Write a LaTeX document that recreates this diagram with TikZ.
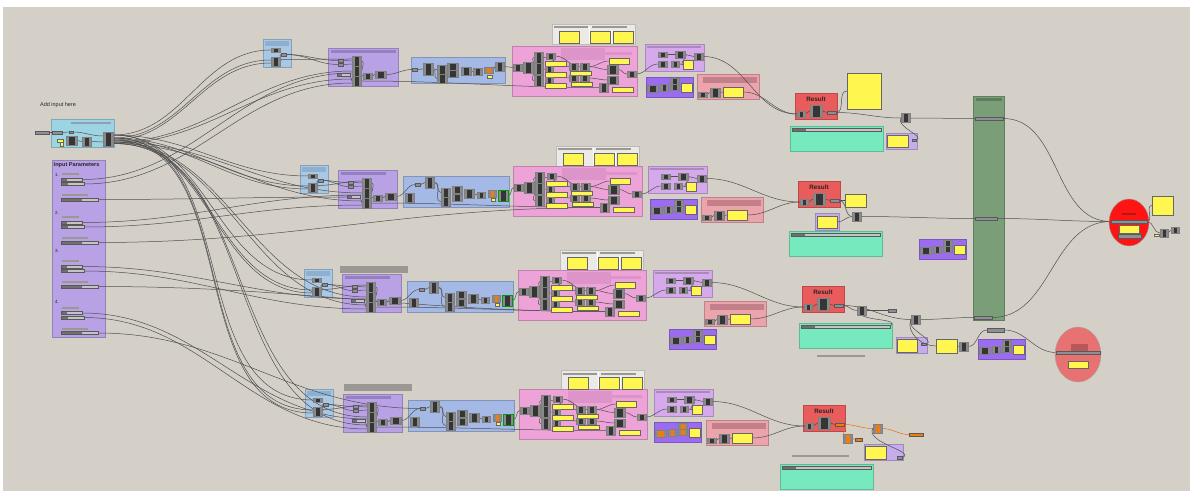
\documentclass[tikz,border=0pt]{standalone}
\usepackage{fontspec}
\setsansfont{Liberation Sans}
\usepackage{tikz}
\usetikzlibrary{positioning,calc,shapes.geometric}
\pgfdeclarelayer{grp}
\pgfdeclarelayer{wires}
\pgfsetlayers{grp,wires,main}

\definecolor{canvasGray}{HTML}{D4D0C8}
\definecolor{inBlue}{HTML}{A8C8E6}
\definecolor{inBlueHead}{HTML}{8FAFCF}
\definecolor{cyanGrp}{HTML}{9DD4E4}
\definecolor{cyanHead}{HTML}{8AA2B2}
\definecolor{purpleGrp}{HTML}{B9A1E5}
\definecolor{purpleHead}{HTML}{957FC0}
\definecolor{blueGrp}{HTML}{A5B9E6}
\definecolor{pinkGrp}{HTML}{EDA3D8}
\definecolor{pinkHead}{HTML}{DD94C8}
\definecolor{whiteGrp}{HTML}{ECEAE6}
\definecolor{lilacGrp}{HTML}{D6A9EC}
\definecolor{lilacHead}{HTML}{A98BB9}
\definecolor{smallGrp}{HTML}{C4ADEA}
\definecolor{violetGrp}{HTML}{9B6CF0}
\definecolor{salmonGrp}{HTML}{EBA3AC}
\definecolor{salmonHead}{HTML}{C4808A}
\definecolor{resultRed}{HTML}{EA5B5B}
\definecolor{tealGrp}{HTML}{77E9BE}
\definecolor{greenGrp}{HTML}{7A9E78}
\definecolor{greenHead}{HTML}{5E7D5C}
\definecolor{redEll}{HTML}{FF1414}
\definecolor{darkRed}{HTML}{B01818}
\definecolor{salmonEll}{HTML}{E87272}
\definecolor{salmonDark}{HTML}{B85858}
\definecolor{panelYellow}{HTML}{FFF650}
\definecolor{compDark}{HTML}{353535}
\definecolor{compSide}{HTML}{8A8A8A}
\definecolor{ghOrange}{HTML}{F07C10}
\definecolor{paramGray}{HTML}{8E8E96}
\definecolor{sliderGray}{HTML}{C4C4C4}
\definecolor{sliderDark}{HTML}{707070}
\definecolor{headGray}{HTML}{9B9792}
\definecolor{wireGray}{HTML}{4F4F4F}

\tikzset{
  sz/.style 2 args={minimum width=#1pt, minimum height=#2pt},
  grp/.style={fill=#1, draw=#1!80!black, line width=0.4pt},
  comp/.style={draw=black!50, fill=compDark, inner sep=0pt, sz={9}{9}, line width=0.4pt,
    path picture={
      \fill[compSide] (path picture bounding box.north west) rectangle ([xshift=2.5pt]path picture bounding box.south west);
      \fill[compSide] (path picture bounding box.north east) rectangle ([xshift=-2.5pt]path picture bounding box.south east);}},
  ocomp/.style={comp, fill=ghOrange},
  param/.style={draw=black!65, fill=paramGray, inner sep=0pt, sz={5}{3}, line width=0.3pt},
  oparam/.style={param, fill=ghOrange},
  slider/.style={draw=black!65, fill=sliderGray, inner sep=0pt, line width=0.35pt, minimum height=3.2pt,
    path picture={\fill[sliderDark] (path picture bounding box.north west) rectangle ([xshift=#1]path picture bounding box.south west);}},
  slider/.default=6pt,
  panel/.style={draw=black!60, fill=panelYellow, inner sep=0pt, line width=0.5pt},
  wire/.style={draw=wireGray, line width=0.5pt},
  owire/.style={draw=ghOrange!85!red, line width=0.5pt},
  fan/.style={wire, out=0, in=180},
  ghtext/.style={font=\sffamily\fontsize{5.5}{6}\selectfont, inner sep=0pt, text=black!85},
}

% groups of one row
\tikzset{
  pics/inblue/.style={code={
    \begin{pgfonlayer}{grp}
      \path[grp=inBlue] (0,0) rectangle (28,28);
      \fill[inBlueHead] (2,2) rectangle (26,7);
    \end{pgfonlayer}
    \node[comp, sz={9}{4}] (-a) at (12.5,11) {};
    \node[comp] (-b) at (12.5,22.5) {};
    \node[param] (-p) at (20.5,15.5) {};
    \begin{pgfonlayer}{wires}
      \draw[wire] (-b.east) to[out=0,in=180] (-p.west);
    \end{pgfonlayer}
  }},
  pics/purplegrp/.style 2 args={code={
    \begin{pgfonlayer}{grp}
      \path[grp=purpleGrp] (0,0) rectangle (#1,38);
      \fill[purpleHead] (3,2) rectangle (#2,5);
    \end{pgfonlayer}
    \node[param] (-p1) at (13,12.5) {};
    \node[param] (-p2) at (13,16.5) {};
    \node[slider=5pt, minimum width=13pt] (-s) at (15.5,27) {};
    \node[comp, sz={9}{10}] (-k1) at (28.5,13) {};
    \node[comp, sz={9}{10}] (-k2) at (28.5,23) {};
    \node[comp, sz={9}{10}] (-k3) at (28.5,33) {};
    \node[comp, sz={9}{6}] (-c1) at (40,28) {};
    \node[comp, sz={11}{7}] (-c2) at (52.5,26.5) {};
    \begin{pgfonlayer}{wires}
      \draw[wire] (-p1.east) -- (-k1.west);
      \draw[wire] (-p2.east) -- ([yshift=-3pt]-k1.west);
      \draw[wire] (-s.east) -- (-k3.west);
      \draw[wire] (-k1.east) to[out=0,in=180] (-c1.west);
      \draw[wire] (-c1.east) -- (-c2.west);
    \end{pgfonlayer}
  }},
  pics/bluegrpA/.style={code={
    \begin{pgfonlayer}{grp}
      \path[grp=blueGrp] (0,0) rectangle (94,26);
    \end{pgfonlayer}
    \node[param] (-p) at (4,12.5) {};
    \node[comp, sz={10}{12}] (-c1) at (17,12) {};
    \node[comp, sz={10}{9}] (-c2) at (31,12.5) {};
    \node[comp, sz={10}{9}] (-c3) at (31,21.5) {};
    \node[comp, sz={11}{7}] (-c4) at (41.5,9.5) {};
    \node[comp, sz={11}{7}] (-c5) at (41.5,17) {};
    \node[comp, sz={10}{8}] (-c6) at (55,14) {};
    \node[comp, sz={9}{7}] (-c7) at (66.5,14.5) {};
    \node[ocomp, sz={9}{6}] (-c8) at (77.5,13) {};
    \node[panel, sz={5}{2.5}] (-y) at (78.5,20) {};
    \node[comp] (-out) at (88.5,9.5) {};
    \begin{pgfonlayer}{wires}
      \draw[wire] (-p.east) -- (-c1.west);
      \draw[wire] (-c1.east) to[out=0,in=180] (-c2.west);
      \draw[wire] (-c1.east) to[out=0,in=180] (-c3.west);
      \draw[wire] (-c6.east) -- (-c7.west);
      \draw[wire] (-c8.east) to[out=0,in=180] (-out.west);
    \end{pgfonlayer}
  }},
  pics/bluegrpB/.style={code={
    \begin{pgfonlayer}{grp}
      \path[grp=blueGrp] (0,0) rectangle (106,31);
    \end{pgfonlayer}
    \node[comp] (-c0) at (6.5,21.5) {};
    \node[param] (-p) at (15,8.5) {};
    \node[comp, sz={9}{11}] (-c1) at (27,6.5) {};
    \node[comp, sz={9}{9}] (-c2) at (42.5,16.5) {};
    \node[comp, sz={9}{9}] (-c3) at (42.5,25.5) {};
    \node[comp, sz={10}{7}] (-c4) at (54,13.5) {};
    \node[comp, sz={10}{7}] (-c5) at (54,21.5) {};
    \node[comp, sz={10}{9}] (-c6) at (66,17.5) {};
    \node[comp, sz={8}{6}] (-c7) at (78,19) {};
    \node[ocomp, sz={8}{7}] (-c8) at (89,17.5) {};
    \node[panel, sz={4}{3}] (-y) at (90,23.5) {};
    \node[comp, draw=green!60!black, line width=0.8pt, sz={10}{11}] (-out) at (100,19.5) {};
    \begin{pgfonlayer}{wires}
      \draw[wire] (-p.east) -- (-c1.west);
      \draw[wire] (-c1.east) to[out=0,in=180] (-c2.west);
      \draw[wire] (-c1.east) to[out=0,in=180] (-c3.west);
      \draw[wire] (-c6.east) -- (-c7.west);
    \end{pgfonlayer}
  }},
  pics/pinkgrp/.style={code={
    \begin{pgfonlayer}{grp}
      \path[grp=pinkGrp] (0,0) rectangle (#1,50);
      \fill[pinkHead] (49,2) rectangle (93,14);
      \fill[pinkHead] (93,6) rectangle (#1-5,9);
    \end{pgfonlayer}
    \node[comp, sz={9}{7}] (-in) at (5.5,21.5) {};
    \node[comp, sz={10}{11}] (-c1) at (16,21.5) {};
    \node[comp, sz={9}{11}] (-k1) at (26.5,11.5) {};
    \node[comp, sz={9}{11}] (-k2) at (26.5,23) {};
    \node[comp, sz={9}{11}] (-k3) at (26.5,34.5) {};
    \node[comp, sz={9}{6}] (-d1) at (38.5,10) {};
    \node[panel, sz={21}{5}] (-y1) at (43.5,17.5) {};
    \node[comp, sz={8}{6}] (-d2) at (37,23) {};
    \node[panel, sz={21}{5}] (-y2) at (43.5,28.5) {};
    \node[comp, sz={8}{6}] (-d3) at (37,34) {};
    \node[panel, sz={21}{5}] (-y3) at (43.5,39.5) {};
    \node[comp, sz={9}{7}] (-e1) at (61.5,20.5) {};
    \node[comp, sz={9}{7}] (-e2) at (72.5,20.5) {};
    \node[panel, sz={21}{4}] (-y4) at (68.5,27) {};
    \node[comp, sz={9}{6}] (-e3) at (61.5,32) {};
    \node[comp, sz={9}{6}] (-e4) at (72.5,32) {};
    \node[panel, sz={21}{4}] (-y5) at (69.5,38) {};
    \node[panel, sz={20}{6}] (-y6) at (107,15) {};
    \node[comp, sz={11}{9}] (-f1) at (100.5,23.5) {};
    \node[comp, sz={11}{8}] (-f2) at (100.5,34) {};
    \node[comp, sz={9}{9}] (-w) at (91.5,41.5) {};
    \node[panel, sz={21}{5}] (-y7) at (110.5,43.5) {};
    \node[comp, sz={9}{6}] (-out) at (#1-5.5,28) {};
    \begin{pgfonlayer}{wires}
      \draw[wire] (-in.east) -- (-c1.west);
      \draw[wire] (-c1.east) to[out=0,in=180] (-k1.west);
      \draw[wire] (-c1.east) to[out=0,in=180] (-k3.west);
      \draw[wire] (-k1.east) to[out=0,in=180] (-e1.west);
      \draw[wire] (-k2.east) to[out=0,in=180] (-e3.west);
      \draw[wire] (-d1.east) to[out=0,in=180] (-e2.west);
      \draw[wire] (-e2.east) to[out=0,in=180] (-f1.west);
      \draw[wire] (-e4.east) to[out=0,in=180] (-f2.west);
      \draw[wire] (-f1.east) to[out=0,in=180] (-out.west);
      \draw[wire] (-e2.east) to[out=0,in=180] (-y6.west);
    \end{pgfonlayer}
  }},
  pics/whitegrp/.style={code={
    \begin{pgfonlayer}{grp}
      \path[grp=whiteGrp] (0,0) rectangle (83,20);
      \fill[headGray] (2,2.5) rectangle (36,4.5);
      \fill[headGray] (40,2.5) rectangle (75,4.5);
      \fill[white] (36.5,2) rectangle (37.5,19);
      \fill[white] (59,6) rectangle (60,19);
    \end{pgfonlayer}
    \node[panel, sz={20}{12}] (-a) at (17,13) {};
    \node[panel, sz={20}{12}] (-b) at (48,13) {};
    \node[panel, sz={20}{12}] (-c) at (71,13) {};
  }},
  pics/lilacgrp/.style={code={
    \begin{pgfonlayer}{grp}
      \path[grp=lilacGrp] (0,0) rectangle (59,27);
      \fill[lilacHead] (2,2) rectangle (56,4);
    \end{pgfonlayer}
    \node[comp, sz={9}{5}] (-a) at (17.5,10.5) {};
    \node[comp, sz={10}{7}] (-b) at (35,10.5) {};
    \node[comp, sz={9}{7}] (-out) at (53.5,12.5) {};
    \node[comp, sz={9}{6}] (-c) at (17.5,20) {};
    \node[comp, sz={8}{6}] (-d) at (30,20) {};
    \node[panel, sz={10}{9}] (-y) at (43,20.5) {};
    \begin{pgfonlayer}{wires}
      \draw[wire] (-a.east) -- (-b.west);
      \draw[wire] (-b.east) to[out=0,in=180] (-out.west);
      \draw[wire] (-b.east) to[out=0,in=180] (-y.west);
      \draw[wire] (-d.east) -- (-y.west);
    \end{pgfonlayer}
  }},
  pics/violetgrp/.style={code={
    \begin{pgfonlayer}{grp}
      \path[grp=violetGrp] (0,0) rectangle (47,20);
    \end{pgfonlayer}
    \node[#1, sz={11}{7}] (-a) at (6.5,12) {};
    \node[#1, sz={8}{7}] (-b) at (18,10.5) {};
    \node[#1, sz={9}{6}] (-c) at (28.5,4.5) {};
    \node[#1, sz={9}{6}] (-d) at (28.5,10.5) {};
    \node[panel, sz={11}{9}] (-y) at (40.5,10.5) {};
  }},
  pics/salmongrp/.style={code={
    \begin{pgfonlayer}{grp}
      \path[grp=salmonGrp] (0,0) rectangle (62,25);
      \fill[salmonHead] (6,3) rectangle (60,9);
    \end{pgfonlayer}
    \node[comp, sz={9}{5}] (-a) at (5.5,20.5) {};
    \node[comp, sz={10}{9}] (-b) at (18,18.5) {};
    \node[panel, sz={20}{10}] (-y) at (36,18) {};
    \begin{pgfonlayer}{wires}
      \draw[wire] (-a.east) -- (-b.west);
      \draw[wire] (-b.east) -- (-y.west);
    \end{pgfonlayer}
  }},
  pics/resultgrp/.style={code={
    \begin{pgfonlayer}{grp}
      \path[grp=resultRed] (0,0) rectangle (42,26);
    \end{pgfonlayer}
    \node[ghtext, font=\sffamily\bfseries\fontsize{6.3}{7}\selectfont] (-t) at (21,6) {Result};
    \node[comp, sz={8}{6}] (-in) at (6,21) {};
    \node[comp, sz={12}{12}] (-c) at (21,18) {};
    \node[#1, sz={9}{3}] (-out) at (36.5,19.5) {};
    \begin{pgfonlayer}{wires}
      \draw[wire] (-in.east) -- (-c.west);
      \draw[wire] (-c.east) -- (-out.west);
    \end{pgfonlayer}
  }},
  pics/tealgrp/.style={code={
    \begin{pgfonlayer}{grp}
      \path[grp=tealGrp] (0,0) rectangle (93,25);
    \end{pgfonlayer}
    \node[slider=14pt, minimum width=89pt, minimum height=3pt] (-s) at (46.5,3.5) {};
  }},
}

\begin{document}
\begin{tikzpicture}[x=1pt, y=-1pt]
  \useasboundingbox (0,0) rectangle (1193,494);
  \begin{pgfonlayer}{grp}
    \fill[white] (0,0) rectangle (1193,494);
    \fill[canvasGray] (3,7) rectangle (1190,491);
  \end{pgfonlayer}

  % input side
  \node[ghtext] (addtxt) at (58,105.5) {Add input here};
  \node[param, sz={14}{3.5}] (inpar) at (42,132.5) {};
  \begin{pgfonlayer}{grp}
    \path[grp=cyanGrp] (51,119) rectangle (114,147);
    \fill[cyanHead] (71,122) rectangle (111,124.5);
    \path[grp=purpleGrp] (52,160) rectangle (105,337);
  \end{pgfonlayer}
  \node[param, sz={10}{3.5}] (cy-in) at (57,132.5) {};
  \node[param, sz={4}{2.5}] (cy-p) at (71,132) {};
  \node[panel, sz={6}{3}] (cy-y1) at (60,140.5) {};
  \node[panel, sz={3}{4}] (cy-y2) at (61.5,144.5) {};
  \node[comp, sz={11}{9}] (cy-a) at (71.5,140.5) {};
  \node[comp, sz={9}{9}] (cy-b) at (86.5,141.5) {};
  \node[comp, sz={10}{14}] (cy-out) at (108,139) {};

  \node[ghtext, font=\sffamily\bfseries\fontsize{5.6}{6}\selectfont, anchor=west] (iptitle) at (53.5,165.5) {Input Parameters};
  \foreach \idx/\ly/\ya in {1/174.5/179.5, 2/212.5/222.5, 3/251/266.5, 4/301.5/313}{
    \node[ghtext, font=\sffamily\fontsize{4.5}{5}\selectfont, anchor=west] (ipl\idx) at (55,\ly) {\idx.};
    \fill[headGray] (62,\ya-6.5) rectangle (79,\ya-4.5);
    \node[slider=6pt, minimum width=21pt] (s\idx a) at (71.5,\ya) {};
    \node[slider=7pt, minimum width=23pt] (s\idx b) at (72.5,\ya+4.5) {};
    \fill[headGray] (62,\ya+14.5) rectangle (88,\ya+16.5);
    \node[slider=21pt, minimum width=37pt] (s\idx c) at (79.5,\ya+20) {};
  }

  % row 1
  \pic (r1ib) at (263,39) {inblue};
  \pic (r1pu) at (328,48) {purplegrp={70}{68}};
  \pic (r1bl) at (411,57) {bluegrpA};
  \pic (r1wh) at (552,24) {whitegrp};
  \pic (r1pk) at (512,46) {pinkgrp=125};
  \pic (r1li) at (645,44) {lilacgrp};
  \pic (r1vi) at (646,77) {violetgrp=comp};
  \pic (r1sa) at (697,74) {salmongrp};
  \pic (r1rs) at (795,93) {resultgrp=param};
  \pic (r1te) at (790,126) {tealgrp};
  % row 2
  \pic (r2ib) at (300,165) {inblue};
  \pic (r2pu) at (338,170) {purplegrp={59}{48}};
  \pic (r2bl) at (403,176) {bluegrpB};
  \pic (r2wh) at (556,146) {whitegrp};
  \pic (r2pk) at (513,166) {pinkgrp=129};
  \pic (r2li) at (648,166) {lilacgrp};
  \pic (r2vi) at (650,199) {violetgrp=comp};
  \pic (r2sa) at (701,197) {salmongrp};
  \pic (r2rs) at (798,181) {resultgrp=param};
  \pic (r2te) at (789,231) {tealgrp};
  % row 3
  \fill[headGray] (340,266) rectangle (408,273);
  \pic (r3ib) at (304,269) {inblue};
  \pic (r3pu) at (342,274) {purplegrp={59}{48}};
  \pic (r3bl) at (407,281) {bluegrpB};
  \pic (r3wh) at (560,250) {whitegrp};
  \pic (r3pk) at (518,270) {pinkgrp=128};
  \pic (r3li) at (653,270) {lilacgrp};
  \pic (r3vi) at (669,329) {violetgrp=comp};
  \pic (r3sa) at (704,301) {salmongrp};
  \pic (r3rs) at (802,286) {resultgrp=param};
  \pic (r3te) at (799,323) {tealgrp};
  % row 4
  \fill[headGray] (344,384) rectangle (412,391);
  \pic (r4ib) at (305,389) {inblue};
  \pic (r4pu) at (343,394) {purplegrp={59}{48}};
  \pic (r4bl) at (408,400) {bluegrpB};
  \pic (r4wh) at (561,370) {whitegrp};
  \pic (r4pk) at (519,389) {pinkgrp=128};
  \pic (r4li) at (654,389) {lilacgrp};
  \pic (r4vi) at (654,422) {violetgrp=ocomp};
  \pic (r4sa) at (706,420) {salmongrp};
  \pic (r4rs) at (803,405) {resultgrp=oparam};
  \pic (r4te) at (780,464) {tealgrp};

  % outputs of the rows
  \begin{pgfonlayer}{grp}
    \path[grp=smallGrp] (886,133) rectangle (917,149);
    \path[grp=smallGrp] (815,213) rectangle (839,230);
    \path[grp=smallGrp] (896,337) rectangle (927,353);
    \path[grp=smallGrp] (864,444) rectangle (903,460);
    \path[grp=greenGrp] (973,96) rectangle (1004,320);
    \fill[greenHead] (976,98) rectangle (1002,101);
    \fill[headGray] (817,354.5) rectangle (865,357);
    \fill[headGray] (792,454.5) rectangle (849,457);
  \end{pgfonlayer}
  \node[panel, sz={34}{36}] (r1yp) at (864,91) {};
  \node[comp] (r1x) at (905.5,118) {};
  \node[panel, sz={21}{12}] (r1ly) at (897.5,141) {};
  \node[param, sz={4}{2.5}] (r1lp) at (914,140) {};
  \node[panel, sz={21}{13}] (r2yp) at (855.5,200.5) {};
  \node[panel, sz={20}{12}] (r2ly) at (827,222) {};
  \node[comp] (r2x) at (857,216.5) {};
  \pic (r2vx) at (919,239) {violetgrp=comp};
  \node[comp] (r3x) at (861.5,310.5) {};
  \node[param, sz={8}{3}] (r3p) at (892,310.5) {};
  \node[comp] (r3x2) at (915.5,319.5) {};
  \node[panel, sz={20}{13}] (r3ly) at (907,345.5) {};
  \node[param, sz={5}{2.5}] (r3lp) at (923.5,344) {};
  \node[panel, sz={21}{14}] (r3yp) at (946.5,346) {};
  \node[comp] (r3x3) at (963.5,346.5) {};
  \pic (r3vx) at (978,339) {violetgrp=comp};
  \node[param, sz={17}{4}] (r3bar) at (995.5,330) {};
  \node[ocomp] (r4o1) at (877.5,428.5) {};
  \node[ocomp] (r4o2) at (848,438.5) {};
  \node[oparam, sz={7}{3}] (r4o3) at (858.5,439.5) {};
  \node[oparam, sz={14}{3}] (r4bar) at (916,434.5) {};
  \node[panel, sz={21}{13}] (r4ly) at (875.5,452.5) {};
  \node[param, sz={5}{3}] (r4lp) at (899.5,457.5) {};
  \node[param, sz={28}{3.5}] (g1) at (989,118.5) {};
  \node[param, sz={22}{3.5}] (g2) at (986,218.5) {};
  \node[param, sz={18}{3.5}] (g3) at (983,317.5) {};

  % final ellipses
  \node[ellipse, draw=black!40, fill=redEll, sz={40}{47}, inner sep=0pt] (redel) at (1129,222.5) {};
  \fill[darkRed] (1122,213) rectangle (1136,215);
  \node[param, sz={36}{3.5}] (redbar) at (1129,221.5) {};
  \node[panel, sz={20}{8}] (redy) at (1129,229) {};
  \node[param, sz={23}{3.5}] (redbar2) at (1129.5,236) {};
  \node[panel, sz={21}{19}] (redyp) at (1162.5,205.5) {};
  \node[panel, sz={5}{2}] (redys) at (1156.5,235) {};
  \node[comp, sz={8}{8}] (redc1) at (1164,233) {};
  \node[comp, sz={8}{6}] (redc2) at (1175,230) {};
  \node[ellipse, draw=black!35, fill=salmonEll, sz={46}{55}, inner sep=0pt] (salel) at (1078,354.5) {};
  \fill[salmonDark] (1071,344) rectangle (1088,352);
  \node[param, sz={44}{3.5}] (salbar) at (1078,352.5) {};
  \node[panel, sz={20}{7}] (saly) at (1078,364.5) {};

  \begin{pgfonlayer}{wires}
    \draw[wire] (inpar.east) -- (cy-in.west);
    \draw[wire] (cy-in.east) -- (cy-p.west);
    \draw[wire] (cy-p.east) to[out=0,in=180] ([yshift=3pt]cy-out.west);
    \draw[wire] (cy-a.east) to[out=0,in=180] (cy-b.west);
    \draw[wire] (cy-b.east) to[out=0,in=180] ([yshift=-3pt]cy-out.west);
    % wires of each row
    \foreach \idx in {1,...,4}{
      \draw[fan] ([yshift=4pt]cy-out.east) to (r\idx ib-a.west);
      \draw[fan] ([yshift=1pt]cy-out.east) to ([yshift=1.5pt]r\idx ib-b.west);
      \draw[fan] ([yshift=-1pt]cy-out.east) to ([yshift=-1.5pt]r\idx ib-b.west);
      \draw[fan] ([yshift=-3pt]cy-out.east) to (r\idx pu-k2.west);
      \draw[fan] ([yshift=-4.5pt]cy-out.east) to ([yshift=2pt]r\idx pu-k3.west);
      \draw[fan] (s\idx a.east) to ([yshift=-2pt]r\idx pu-k2.west);
      \draw[fan] (s\idx b.east) to ([yshift=-2pt]r\idx pu-k3.west);
      \draw[fan] (r\idx ib-p.east) to (r\idx pu-p1.west);
      \draw[fan] (r\idx ib-p.east) to (r\idx pu-p2.west);
      \draw[fan] ([yshift=2pt]r\idx ib-b.east) to ([yshift=2pt]r\idx pu-k1.west);
      \draw[fan] (r\idx pu-c2.east) to (r\idx bl-p.west);
      \draw[fan] (r\idx bl-out.east) to (r\idx pk-in.west);
      \draw[fan] (r\idx pu-k3.east) to (r\idx pk-w.west);
      \draw[fan] (r\idx pk-out.east) to (r\idx li-c.west);
      \draw[fan] (r\idx li-out.east) to (r\idx rs-in.west);
      \draw[fan] (r\idx sa-y.east) to (r\idx rs-in.west);
    }
    \draw[fan] (s1c.east) to (r2pu-s.west);
    \draw[fan] (s2c.east) to (r2pk-w.west);
    \draw[fan] (s3c.east) to (r3pk-w.west);
    \draw[fan] (s4c.east) to (r4bl-p.west);
    % row 1 outputs
    \draw[fan] (r1rs-out.east) to (r1yp.west);
    \draw[fan] (r1rs-out.east) to (r1x.west);
    \draw[wire] (r1x.east) -- (g1.west);
    \draw[wire] (r1x.west) to[out=240,in=20] (r1lp.east);
    \draw[fan] (g1.east) to (redbar.west);
    % row 2 outputs
    \draw[wire] (r2rs-out.east) -- (r2yp.west);
    \draw[fan] (r2rs-out.east) to (r2x.west);
    \draw[fan] (r2ly.east) to (r2x.west);
    \draw[fan] (r2x.east) to (g2.west);
    \draw[fan] (g2.east) to (redbar.west);
    % row 3 outputs
    \draw[fan] (r3rs-out.east) to (r3x.west);
    \draw[wire] (r3x.east) -- (r3p.west);
    \draw[fan] (r3rs-out.east) to (r3x2.west);
    \draw[wire] (r3x.south) to[out=-30,in=40] (r3te-s.east);
    \draw[fan] (r3x2.east) to (g3.west);
    \draw[wire] (r3x2.west) to[out=240,in=20] (r3lp.east);
    \draw[wire] (r3x2.west) to[out=250,in=180] (r3yp.west);
    \draw[wire] (r3yp.east) -- (r3x3.west);
    \draw[fan] (r3x3.east) to (r3bar.west);
    \draw[fan] (r3bar.east) to (salbar.west);
    \draw[fan] (g3.east) to (redbar.west);
    % row 4 outputs
    \draw[owire] (r4rs-out.east) to[out=0,in=180] (r4o1.west);
    \draw[owire] (r4rs-out.east) to[out=-20,in=120] (r4o2.west);
    \draw[owire] (r4o2.east) -- (r4o3.west);
    \draw[owire] (r4o1.east) to[out=0,in=180] (r4bar.west);
    \draw[wire] (r4o1.west) to[out=240,in=20] (r4lp.east);
    % result
    \draw[fan] (redbar.east) to (redyp.west);
    \draw[fan] (redbar.east) to (redc1.west);
    \draw[wire] (redc1.east) -- (redc2.west);
  \end{pgfonlayer}
\end{tikzpicture}
\end{document}
